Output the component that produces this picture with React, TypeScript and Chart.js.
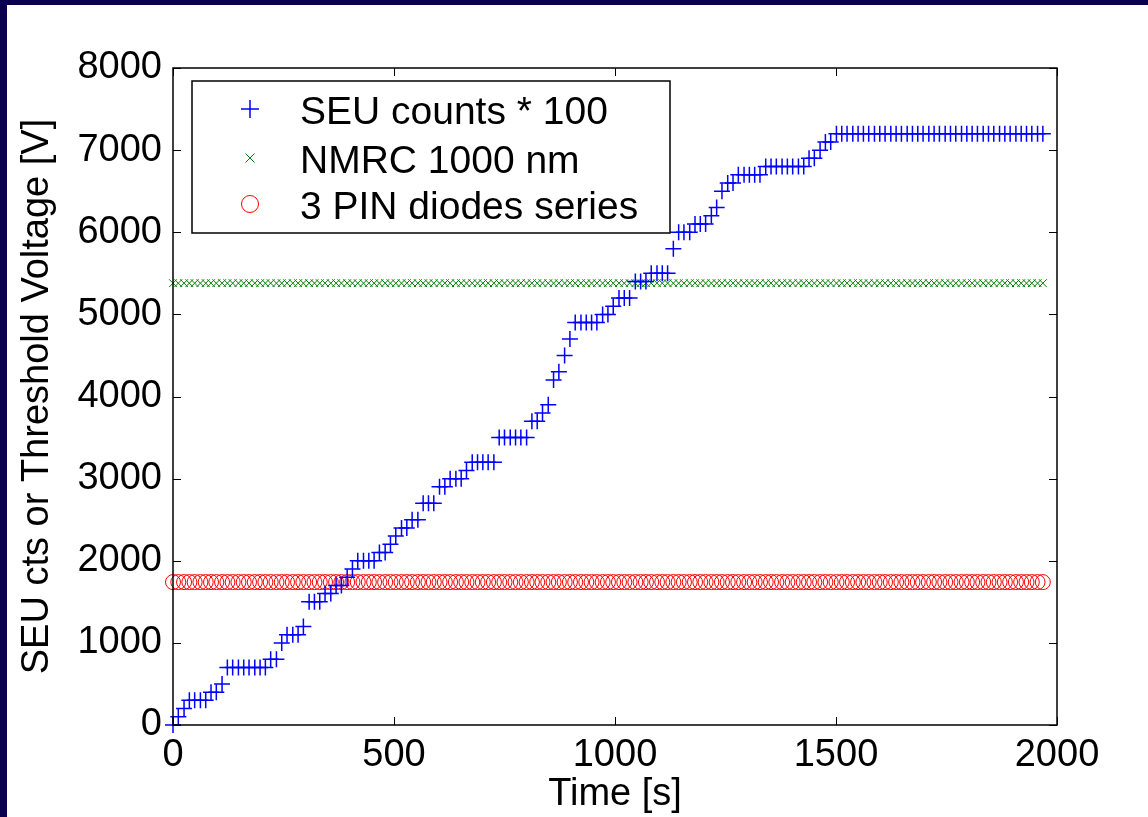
import React, { useEffect, useRef } from 'react';
import { Chart, registerables } from 'chart.js';

Chart.register(...registerables);

// Time axis [s]
const TIME_S = [
  0, 12, 25, 37, 49, 62, 74, 86, 98, 111,
  123, 135, 148, 160, 172, 185, 197, 209, 221, 234,
  246, 258, 271, 283, 295, 308, 320, 332, 344, 357,
  369, 381, 394, 406, 418, 431, 443, 455, 467, 480,
  492, 504, 517, 529, 541, 554, 566, 578, 590, 603,
  615, 627, 640, 652, 664, 677, 689, 701, 713, 726,
  738, 750, 763, 775, 787, 800, 812, 824, 836, 849,
  861, 873, 886, 898, 910, 923, 935, 947, 959, 972,
  984, 996, 1009, 1021, 1033, 1046, 1058, 1070, 1082, 1095,
  1107, 1119, 1132, 1144, 1156, 1169, 1181, 1193, 1205, 1218,
  1230, 1242, 1255, 1267, 1279, 1292, 1304, 1316, 1328, 1341,
  1353, 1365, 1378, 1390, 1402, 1415, 1427, 1439, 1451, 1464,
  1476, 1488, 1501, 1513, 1525, 1538, 1550, 1562, 1574, 1587,
  1599, 1611, 1624, 1636, 1648, 1661, 1673, 1685, 1697, 1710,
  1722, 1734, 1747, 1759, 1771, 1784, 1796, 1808, 1820, 1833,
  1845, 1857, 1870, 1882, 1894, 1907, 1919, 1931, 1943, 1956,
  1968,
];

// SEU counts * 100
const SEU_COUNTS_X100 = [
  0, 100, 200, 300, 300, 300, 300, 400, 400, 500,
  700, 700, 700, 700, 700, 700, 700, 700, 800, 800,
  1000, 1100, 1100, 1100, 1200, 1500, 1500, 1500, 1600, 1600,
  1700, 1700, 1800, 1900, 2000, 2000, 2000, 2000, 2100, 2100,
  2200, 2300, 2400, 2400, 2500, 2500, 2700, 2700, 2700, 2900,
  2900, 3000, 3000, 3000, 3100, 3200, 3200, 3200, 3200, 3200,
  3500, 3500, 3500, 3500, 3500, 3500, 3700, 3700, 3800, 3900,
  4200, 4300, 4500, 4700, 4900, 4900, 4900, 4900, 4900, 5000,
  5000, 5100, 5200, 5200, 5200, 5400, 5400, 5400, 5500, 5500,
  5500, 5500, 5800, 6000, 6000, 6000, 6100, 6100, 6100, 6200,
  6300, 6500, 6600, 6600, 6700, 6700, 6700, 6700, 6700, 6800,
  6800, 6800, 6800, 6800, 6800, 6800, 6800, 6900, 6900, 7000,
  7100, 7100, 7200, 7200, 7200, 7200, 7200, 7200, 7200, 7200,
  7200, 7200, 7200, 7200, 7200, 7200, 7200, 7200, 7200, 7200,
  7200, 7200, 7200, 7200, 7200, 7200, 7200, 7200, 7200, 7200,
  7200, 7200, 7200, 7200, 7200, 7200, 7200, 7200, 7200, 7200,
  7200,
];

// NMRC 1000 nm threshold voltage [V]
const NMRC_1000NM = [
  5380, 5380, 5380, 5380, 5380, 5380, 5380, 5380, 5380, 5380,
  5380, 5380, 5380, 5380, 5380, 5380, 5380, 5380, 5380, 5380,
  5380, 5380, 5380, 5380, 5380, 5380, 5380, 5380, 5380, 5380,
  5380, 5380, 5380, 5380, 5380, 5380, 5380, 5380, 5380, 5380,
  5380, 5380, 5380, 5380, 5380, 5380, 5380, 5380, 5380, 5380,
  5380, 5380, 5380, 5380, 5380, 5380, 5380, 5380, 5380, 5380,
  5380, 5380, 5380, 5380, 5380, 5380, 5380, 5380, 5380, 5380,
  5380, 5380, 5380, 5380, 5380, 5380, 5380, 5380, 5380, 5380,
  5380, 5380, 5380, 5380, 5380, 5380, 5380, 5380, 5380, 5380,
  5380, 5380, 5380, 5380, 5380, 5380, 5380, 5380, 5380, 5380,
  5380, 5380, 5380, 5380, 5380, 5380, 5380, 5380, 5380, 5380,
  5380, 5380, 5380, 5380, 5380, 5380, 5380, 5380, 5380, 5380,
  5380, 5380, 5380, 5380, 5380, 5380, 5380, 5380, 5380, 5380,
  5380, 5380, 5380, 5380, 5380, 5380, 5380, 5380, 5380, 5380,
  5380, 5380, 5380, 5380, 5380, 5380, 5380, 5380, 5380, 5380,
  5380, 5380, 5380, 5380, 5380, 5380, 5380, 5380, 5380, 5380,
  5380,
];

// 3 PIN diodes series threshold voltage [V]
const PIN_DIODES_3 = [
  1740, 1740, 1740, 1740, 1740, 1740, 1740, 1740, 1740, 1740,
  1740, 1740, 1740, 1740, 1740, 1740, 1740, 1740, 1740, 1740,
  1740, 1740, 1740, 1740, 1740, 1740, 1740, 1740, 1740, 1740,
  1740, 1740, 1740, 1740, 1740, 1740, 1740, 1740, 1740, 1740,
  1740, 1740, 1740, 1740, 1740, 1740, 1740, 1740, 1740, 1740,
  1740, 1740, 1740, 1740, 1740, 1740, 1740, 1740, 1740, 1740,
  1740, 1740, 1740, 1740, 1740, 1740, 1740, 1740, 1740, 1740,
  1740, 1740, 1740, 1740, 1740, 1740, 1740, 1740, 1740, 1740,
  1740, 1740, 1740, 1740, 1740, 1740, 1740, 1740, 1740, 1740,
  1740, 1740, 1740, 1740, 1740, 1740, 1740, 1740, 1740, 1740,
  1740, 1740, 1740, 1740, 1740, 1740, 1740, 1740, 1740, 1740,
  1740, 1740, 1740, 1740, 1740, 1740, 1740, 1740, 1740, 1740,
  1740, 1740, 1740, 1740, 1740, 1740, 1740, 1740, 1740, 1740,
  1740, 1740, 1740, 1740, 1740, 1740, 1740, 1740, 1740, 1740,
  1740, 1740, 1740, 1740, 1740, 1740, 1740, 1740, 1740, 1740,
  1740, 1740, 1740, 1740, 1740, 1740, 1740, 1740, 1740, 1740,
  1740,
];

const X_TICKS = [0, 500, 1000, 1500, 2000];
const Y_TICKS = [0, 1000, 2000, 3000, 4000, 5000, 6000, 7000, 8000];
const SERIES_LABELS = ['SEU counts * 100', 'NMRC 1000 nm', '3 PIN diodes series'];
const X_TITLE = 'Time [s]';
const Y_TITLE = 'SEU cts or Threshold Voltage [V]';

const FONT = '"Liberation Sans", Arial, Helvetica, sans-serif';
const NAVY = '#0a004f';
const BLUE = '#0000ff';
const GREEN = '#008000';
const RED = '#ff0000';

export default function App() {
  const ref = useRef<HTMLCanvasElement>(null);

  useEffect(() => {
    document.body.style.margin = '0';
    const canvas = ref.current;
    if (!canvas) return;

    const framePlugin = {
      id: 'frame',
      beforeDraw(chart: any) {
        const c = chart.ctx;
        c.save();
        c.fillStyle = '#ffffff';
        c.fillRect(0, 0, chart.width, chart.height);
        c.fillStyle = NAVY;
        c.fillRect(0, 0, chart.width, 5);
        c.fillRect(0, 0, 7, chart.height);
        c.restore();
      },
    };

    const axesBoxPlugin = {
      id: 'axesBox',
      afterDatasetsDraw(chart: any) {
        const c = chart.ctx;
        const a = chart.chartArea;
        const xs = chart.scales.x;
        const ys = chart.scales.y;
        const tl = 8;
        c.save();
        c.strokeStyle = '#000000';
        c.lineWidth = 1;
        c.beginPath();
        X_TICKS.forEach((v) => {
          const px = Math.round(xs.getPixelForValue(v)) + 0.5;
          c.moveTo(px, a.bottom);
          c.lineTo(px, a.bottom - tl);
          c.moveTo(px, a.top);
          c.lineTo(px, a.top + tl);
        });
        Y_TICKS.forEach((v) => {
          const py = Math.round(ys.getPixelForValue(v)) + 0.5;
          c.moveTo(a.left, py);
          c.lineTo(a.left + tl, py);
          c.moveTo(a.right, py);
          c.lineTo(a.right - tl, py);
        });
        c.stroke();
        c.lineWidth = 1.5;
        c.strokeRect(a.left, a.top, a.right - a.left, a.bottom - a.top);
        c.restore();
      },
    };

    const legendPlugin = {
      id: 'customLegend',
      afterDraw(chart: any) {
        const c = chart.ctx;
        const box = { left: 192, top: 81, right: 670, bottom: 233 };
        const rows = [109, 158, 204];
        const mx = 250;
        const tx = 300;
        c.save();
        c.fillStyle = '#ffffff';
        c.fillRect(box.left, box.top, box.right - box.left, box.bottom - box.top);
        c.strokeStyle = '#000000';
        c.lineWidth = 1.5;
        c.strokeRect(box.left, box.top, box.right - box.left, box.bottom - box.top);

        // markers
        c.lineWidth = 1.5;
        c.strokeStyle = BLUE;
        c.beginPath();
        c.moveTo(mx - 9, rows[0]);
        c.lineTo(mx + 9, rows[0]);
        c.moveTo(mx, rows[0] - 9);
        c.lineTo(mx, rows[0] + 9);
        c.stroke();

        c.lineWidth = 1;
        c.strokeStyle = GREEN;
        c.beginPath();
        c.moveTo(mx - 4.5, rows[1] - 4.5);
        c.lineTo(mx + 4.5, rows[1] + 4.5);
        c.moveTo(mx - 4.5, rows[1] + 4.5);
        c.lineTo(mx + 4.5, rows[1] - 4.5);
        c.stroke();

        c.strokeStyle = RED;
        c.beginPath();
        c.arc(mx, rows[2], 8.5, 0, Math.PI * 2);
        c.stroke();

        c.fillStyle = '#000000';
        c.font = `39px ${FONT}`;
        c.textAlign = 'left';
        c.textBaseline = 'middle';
        SERIES_LABELS.forEach((label, i) => {
          c.fillText(label, tx, rows[i] + 4);
        });
        c.restore();
      },
    };

    const tickFont = { family: FONT, size: 38 };

    const chart = new Chart(canvas, {
      type: 'scatter',
      data: {
        datasets: [
          {
            label: SERIES_LABELS[0],
            data: TIME_S.map((t, i) => ({ x: t, y: SEU_COUNTS_X100[i] })),
            pointStyle: 'cross',
            pointRadius: 8,
            pointBorderWidth: 1.5,
            pointBorderColor: BLUE,
            pointBackgroundColor: BLUE,
            showLine: false,
            clip: false as any,
          },
          {
            label: SERIES_LABELS[1],
            data: TIME_S.map((t, i) => ({ x: t, y: NMRC_1000NM[i] })),
            pointStyle: 'crossRot',
            pointRadius: 5.5,
            pointBorderWidth: 1,
            pointBorderColor: GREEN,
            pointBackgroundColor: GREEN,
            showLine: false,
            clip: false as any,
          },
          {
            label: SERIES_LABELS[2],
            data: TIME_S.map((t, i) => ({ x: t, y: PIN_DIODES_3[i] })),
            pointStyle: 'circle',
            pointRadius: 7.5,
            pointBorderWidth: 1,
            pointBorderColor: RED,
            pointBackgroundColor: 'rgba(0,0,0,0)',
            showLine: false,
            clip: false as any,
          },
        ],
      },
      options: {
        animation: false,
        responsive: false,
        maintainAspectRatio: false,
        events: [],
        layout: { padding: { left: 0, top: 68, right: 91, bottom: 0 } },
        plugins: {
          legend: { display: false },
          tooltip: { enabled: false },
        },
        scales: {
          x: {
            type: 'linear',
            min: 0,
            max: 2000,
            afterBuildTicks: (s: any) => {
              s.ticks = X_TICKS.map((v) => ({ value: v }));
            },
            afterFit: (s: any) => {
              s.height = 92;
            },
            grid: { display: false, drawTicks: false },
            border: { display: false },
            ticks: {
              color: '#000000',
              font: tickFont,
              padding: 8,
              maxRotation: 0,
              autoSkip: false,
              callback: (v: any) => String(v),
            },
            title: {
              display: true,
              text: X_TITLE,
              color: '#000000',
              font: tickFont,
              padding: { top: 0, bottom: 0 },
            },
          },
          y: {
            type: 'linear',
            min: 0,
            max: 8000,
            afterBuildTicks: (s: any) => {
              s.ticks = Y_TICKS.map((v) => ({ value: v }));
            },
            afterFit: (s: any) => {
              s.width = 173;
            },
            grid: { display: false, drawTicks: false },
            border: { display: false },
            ticks: {
              color: '#000000',
              font: tickFont,
              padding: 11,
              autoSkip: false,
              callback: (v: any) => String(v),
            },
            title: {
              display: true,
              text: Y_TITLE,
              color: '#000000',
              font: tickFont,
              padding: { top: 15, bottom: 0 },
            },
          },
        },
      },
      plugins: [framePlugin, axesBoxPlugin, legendPlugin],
    } as any);

    return () => {
      chart.destroy();
    };
  }, []);

  return (
    <div style={{ width: 1148, height: 817, position: 'relative', background: '#ffffff' }}>
      <canvas ref={ref} width={1148} height={817} style={{ display: 'block', width: 1148, height: 817 }} />
    </div>
  );
}
